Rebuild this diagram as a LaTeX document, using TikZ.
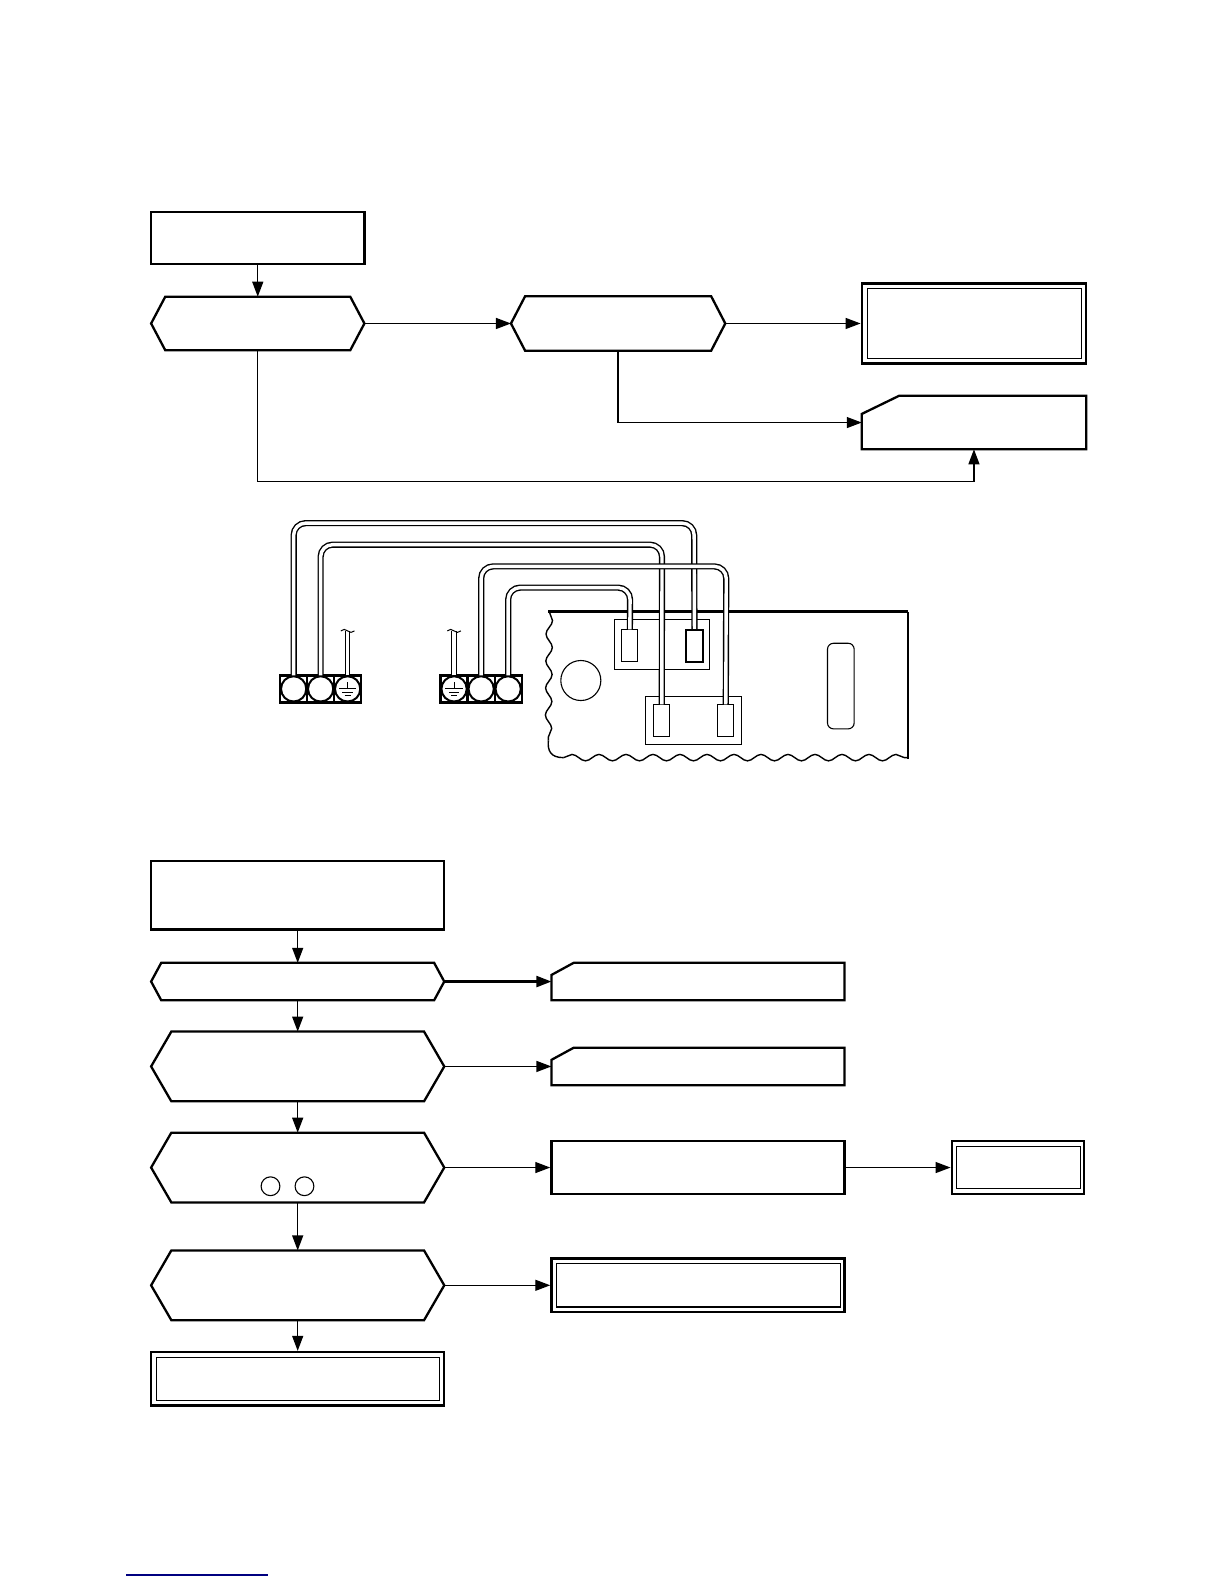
\documentclass[tikz,border=0pt]{standalone}
\usetikzlibrary{arrows.meta,decorations.pathmorphing}
\def\u{0.5054pt}
\tikzset{
  blockbox/.style 2 args={draw,line width=1.15pt,inner sep=0pt,minimum width=#1*\u,minimum height=#2*\u},
  innerbox/.style 2 args={draw,line width=.55pt,inner sep=0pt,minimum width=#1*\u,minimum height=#2*\u},
  hexbox/.style n args={3}{inner sep=0pt,outer sep=0pt,minimum width=#1*\u,minimum height=#2*\u,
    append after command={\pgfextra{\let\lastbox\tikzlastnode
      \draw[line width=1.15pt,line join=miter] (\lastbox.west) -- ([xshift=#3*\u]\lastbox.north west) -- ([xshift=-#3*\u]\lastbox.north east)
        -- (\lastbox.east) -- ([xshift=-#3*\u]\lastbox.south east) -- ([xshift=#3*\u]\lastbox.south west) -- cycle;}}},
  cutbox/.style n args={4}{inner sep=0pt,outer sep=0pt,minimum width=#1*\u,minimum height=#2*\u,
    append after command={\pgfextra{\let\lastbox\tikzlastnode
      \draw[line width=1.15pt] ([yshift=-#4*\u]\lastbox.north west) -- ([xshift=#3*\u]\lastbox.north west) -- (\lastbox.north east)
        -- (\lastbox.south east) -- (\lastbox.south west) -- cycle;}}},
  flow/.style={line width=.65pt,-{Triangle[length=7.5pt,width=5.5pt]}},
  wire/.style={line width=.7pt,double,double distance=1.7pt,rounded corners=6pt},
  termcircle/.style={draw,circle,line width=1pt,inner sep=0pt,minimum size=25*\u},
  partline/.style={line width=.5pt},
  edgewave/.style={line width=.7pt,decorate,decoration={snake,amplitude=1.6pt,segment length=13.5pt}}
}
\begin{document}
\begin{tikzpicture}[x=\u,y=-\u]
\useasboundingbox (0.5,0.5) rectangle (1211.5,1567.5);
% upper flow
\node[blockbox={211}{52}] (start) at (255.5,236) {};
\node[hexbox={211}{53}{14}] (hexa) at (255.5,320.5) {};
\node[hexbox={212}{54}{14}] (hexb) at (612,320.5) {};
\node[blockbox={222}{79}] (enda) at (964,320.5) {};
\node[innerbox={211}{69}] (endain) at (964.5,320.5) {};
\node[cutbox={222}{53}{37}{18}] (cuta) at (964,418.5) {};
\coordinate (elbow) at (600,477);
\draw[flow] (start) -- (hexa);
\draw[flow] (hexa) -- (hexb);
\draw[flow] (hexb) -- (enda);
\draw[flow] (hexb.south) |- (cuta.west);
\draw[flow] (hexa.south) |- (elbow) -| (cuta.south);
% board outline
\draw[edgewave] (544,606) -- (543,733);
\draw[line width=.7pt] (543,733) .. controls (542,743) and (545,750) .. (558,750);
\draw[edgewave] (558,750) -- (899,750);
\draw[line width=.8pt] (899,751) -- (899,605.5);
\draw[line width=1.15pt] (899,605.5) -- (542.5,605.5);
\node[draw,circle,line width=.55pt,inner sep=0pt,minimum size=39.6*\u] (knob) at (575.1,673.7) {};
\node[draw,rounded corners=3pt,line width=.55pt,inner sep=0pt,minimum width=26.4*\u,minimum height=84.7*\u] (slot) at (832.3,679.2) {};
\node[innerbox={94.7}{50.2}] (frameup) at (655.4,638.1) {};
\node[innerbox={95}{47.5}] (framelow) at (686.9,713.6) {};
% terminals
\foreach \name/\xpos in {la/291,lb/317.7,lc/344.4,ra/449.7,rb/476.5,rc/503.2} {
  \node[draw,line width=1.1pt,inner sep=0pt,minimum size=26.7*\u] (cell\name) at (\xpos,682) {};
  \node[termcircle] (term\name) at (\xpos,682) {};
}
\foreach \name in {lc,ra} {
  \draw[partline] ([yshift=3.3pt]term\name.center) -- (term\name.center);
  \draw[partline] ([xshift=-4.3pt]term\name.center) -- ([xshift=4.3pt]term\name.center);
  \draw[partline] ([xshift=-2.6pt,yshift=-1.7pt]term\name.center) -- ([xshift=2.6pt,yshift=-1.7pt]term\name.center);
  \draw[partline] ([xshift=-1.5pt,yshift=-3.3pt]term\name.center) -- ([xshift=1.5pt,yshift=-3.3pt]term\name.center);
  \coordinate (cut\name) at ([yshift=29pt]term\name.center);
  \draw[line width=.6pt,double,double distance=1.6pt] (term\name.north) -- (cut\name);
  \draw[partline] ([xshift=-3.4pt]cut\name) .. controls +(1.2pt,1pt) and +(-1.2pt,1pt) .. (cut\name)
    .. controls +(1.2pt,-1pt) and +(-1.2pt,-1pt) .. ([xshift=3.4pt]cut\name);
}
% connectors on board
\node[innerbox={15.8}{31.6},fill=white] (plugd) at (623.6,639.4) {};
\node[blockbox={16.5}{31.6},line width=1pt,fill=white] (pluga) at (687.5,639.4) {};
\node[innerbox={15.8}{31.6},fill=white] (plugb) at (655.2,713.6) {};
\node[innerbox={15.8}{31.6},fill=white] (plugc) at (718.5,713.6) {};
\coordinate (bendd) at (623.9,581.8);
\coordinate (bendc) at (719,560.8);
\coordinate (bendb) at (655.4,539.3);
\coordinate (benda) at (687.2,518);
\draw[wire] (termlb.north) -- (termlb.north |- bendb) -- (bendb) -- (plugb.north);
\draw[wire] (termla.north) -- (termla.north |- benda) -- (benda) -- (pluga.north);
\draw[wire] (termrb.north) -- (termrb.north |- bendc) -- (bendc) -- (plugc.north);
\draw[wire] (termrc.north) -- (termrc.north |- bendd) -- (bendd) -- (plugd.north);
% lower flow
\node[blockbox={290}{68}] (startb) at (295,886) {};
\node[hexbox={290}{37}{10}] (hexc) at (295,971.5) {};
\node[hexbox={290}{69}{20}] (hexd) at (295,1055.5) {};
\node[hexbox={290}{69}{20}] (hexe) at (295,1155.5) {};
\node[hexbox={290}{69}{20}] (hexf) at (295,1272) {};
\node[blockbox={290}{53}] (endb) at (295,1364.5) {};
\node[innerbox={280}{43}] (endbin) at (295,1364.5) {};
\node[cutbox={290}{37}{22}{12}] (cutb) at (691,971.5) {};
\node[cutbox={290}{37}{22}{12}] (cutc) at (691,1055.5) {};
\node[blockbox={290}{53}] (check) at (691,1155.5) {};
\node[blockbox={131}{53}] (endc) at (1007.5,1155.5) {};
\node[innerbox={122}{42}] (endcin) at (1008,1155.5) {};
\node[blockbox={290}{53}] (endd) at (691,1272) {};
\node[innerbox={281}{43}] (enddin) at (691.5,1272) {};
\node[draw,circle,line width=.55pt,inner sep=0pt,minimum size=18.6*\u] (pina) at (268.1,1174) {};
\node[draw,circle,line width=.55pt,inner sep=0pt,minimum size=18.6*\u] (pinb) at (301.7,1174) {};
\draw[flow] (startb) -- (hexc);
\draw[flow] (hexc) -- (hexd);
\draw[flow] (hexd) -- (hexe);
\draw[flow] (hexe) -- (hexf);
\draw[flow] (hexf) -- (endb);
\draw[flow,line width=1.1pt] (hexc) -- (cutb);
\draw[flow] (hexd) -- (cutc);
\draw[flow] (hexe) -- (check);
\draw[flow] (check) -- (endc);
\draw[flow] (hexf) -- (endd);
\coordinate (linka) at (125.6,1558.5);
\coordinate (linkb) at (266,1558.5);
\draw[line width=.7pt,blue!50!black] (linka) -- (linkb);
\end{tikzpicture}
\end{document}
